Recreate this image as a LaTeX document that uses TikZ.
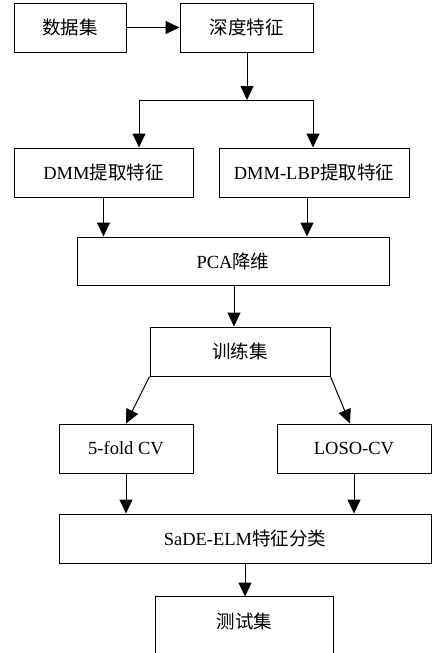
\documentclass[tikz,border=0pt]{standalone}
\usepackage{fontspec}
\setmainfont{Liberation Serif}
\newfontfamily\cjk{Noto Sans CJK SC}
\usetikzlibrary{arrows.meta}

\tikzset{
    box/.style={draw, line width=1pt, minimum height=49pt, inner sep=0pt,
        font=\fontsize{18.5}{21}\selectfont},
    arr/.style={line width=1pt, -{Triangle[length=14pt, width=13pt]}},
}

\begin{document}
\begin{tikzpicture}[x=1pt, y=-1pt]
        \useasboundingbox (0,0) rectangle (442,653);

        %=== Blocchi ===
        \node[box, minimum width=112pt] (data)  at (70,27.5)    {\cjk 数据集};
        \node[box, minimum width=133pt] (deep)  at (246.5,27.5) {\cjk 深度特征};
        \node[box, minimum width=179pt] (dmm)   at (103.5,172.5) {DMM{\cjk 提取特征}};
        \node[box, minimum width=190pt] (lbp)   at (314,172.5)  {DMM-LBP{\cjk 提取特征}};
        \node[box, minimum width=312pt, minimum height=48pt] (pca) at (233,261) {PCA{\cjk 降维}};
        \node[box, minimum width=180pt] (train) at (240,351.5)  {\cjk 训练集};
        \node[box, minimum width=134pt] (fold)  at (126,448.5)  {5-fold CV};
        \node[box, minimum width=154pt] (loso)  at (354,448.5)  {LOSO-CV};
        \node[box, minimum width=372pt] (sade)  at (245,538.5)  {SaDE-ELM{\cjk 特征分类}};
        \node[box, draw=none, minimum width=177pt] (test) at (244.5,621.5) {\cjk 测试集};
        % ultimo blocco tagliato dal bordo inferiore
        \draw[line width=1pt] ([yshift=-20pt]test.south west) |- (test.north east)
            -- ([yshift=-20pt]test.south east);

        %=== Frecce ===
        \draw[arr] (data) -- (deep);

        \coordinate (split)  at (247,100);
        \coordinate (splitL) at (139,100);
        \coordinate (splitR) at (313,100);
        \draw[arr] (deep.south -| split) -- (split);
        \draw[line width=1pt] (splitL) -- (splitR);
        \draw[arr] (splitL) -- (splitL |- dmm.north);
        \draw[arr] (splitR) -- (splitR |- lbp.north);

        \draw[arr] (dmm.south) -- (dmm.south |- pca.north);
        \draw[arr] ([xshift=-7pt]lbp.south) -- ([xshift=-7pt]lbp.south |- pca.north);

        \draw[arr] ([xshift=1pt]pca.south) -- ([xshift=1pt]pca.south |- train.north);

        \draw[arr] (train.south west) -- (fold.north);
        \draw[arr] (train.south east) -- ([xshift=-4pt]loso.north);

        \draw[arr] (fold.south) -- (fold.south |- sade.north);
        \draw[arr] (loso.south) -- (loso.south |- sade.north);

        \draw[arr] (sade.south) -- (sade.south |- test.north);
    \end{tikzpicture}
\end{document}
